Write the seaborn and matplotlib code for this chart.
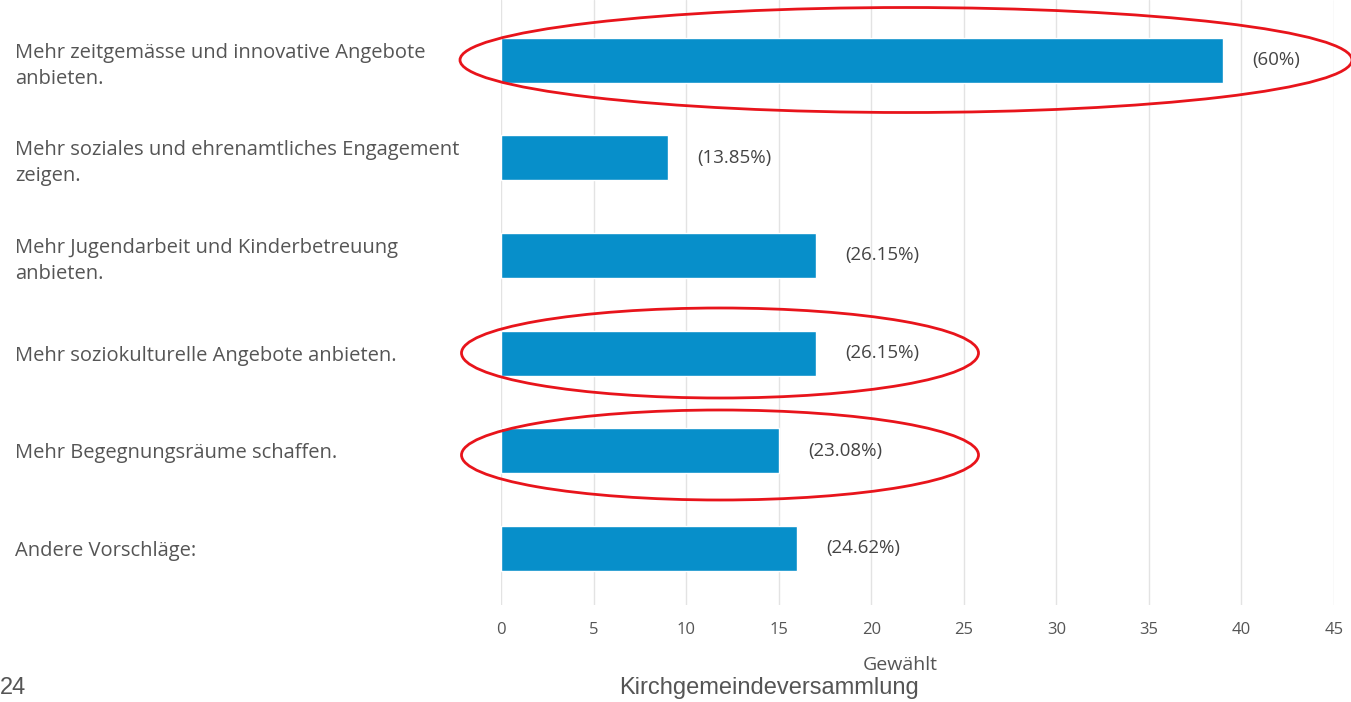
import matplotlib
matplotlib.use("Agg")
import matplotlib.pyplot as plt
from matplotlib.patches import Ellipse
import seaborn as sns
import pandas as pd

categories = [
    "Mehr zeitgemässe und innovative Angebote\nanbieten.",
    "Mehr soziales und ehrenamtliches Engagement\nzeigen.",
    "Mehr Jugendarbeit und Kinderbetreuung\nanbieten.",
    "Mehr soziokulturelle Angebote anbieten.",
    "Mehr Begegnungsräume schaffen.",
    "Andere Vorschläge:",
]
counts = [39, 9, 17, 17, 15, 16]
percent_labels = ["(60%)", "(13.85%)", "(26.15%)", "(26.15%)", "(23.08%)", "(24.62%)"]
x_ticks = [0, 5, 10, 15, 20, 25, 30, 35, 40, 45]

df = pd.DataFrame({"Kategorie": categories, "Gewählt": counts})

sns.set_theme(style="white")
plt.rcParams["font.family"] = ["Open Sans", "DejaVu Sans"]

W, H = 1351, 702
fig = plt.figure(figsize=(W / 100, H / 100), dpi=100)
ax = fig.add_axes([501 / W, 1 - 605 / H, (1334 - 501) / W, 605 / H])

sns.barplot(data=df, y="Kategorie", x="Gewählt", color="#078fca",
            width=0.46, saturation=1, ax=ax, zorder=3)

ax.set_xlim(0, 45)
ax.set_ylim(5.58, -0.615)
ax.set_xticks(x_ticks)
ax.set_xticklabels([str(t) for t in x_ticks])
ax.grid(axis="x", color="#e3e3e3", linewidth=1, zorder=0)
ax.grid(axis="y", visible=False)
for s in ax.spines.values():
    s.set_visible(False)
ax.tick_params(axis="x", length=0, pad=12, labelsize=12, labelcolor="#555555")
ax.tick_params(axis="y", length=0, labelsize=14.5, labelcolor="#555555")
ax.set_ylabel("")
ax.set_xlabel("Gewählt", fontsize=14, color="#555555", labelpad=8)
ax.xaxis.set_label_coords((900 - 501) / (1334 - 501), -0.085)

for lab in ax.get_yticklabels():
    lab.set_horizontalalignment("left")
    lab.set_linespacing(1.4)
ax.tick_params(axis="y", pad=(501 - 15) * 72 / 100)

for i, (c, p) in enumerate(zip(counts, percent_labels)):
    ax.annotate(p, xy=(c, i), xytext=(21, 0), textcoords="offset points",
                va="center", ha="left", fontsize=13.5, color="#444444")

# Red highlight ellipses (figure pixel coordinates)
def fig_ellipse(cx, cy, w, h):
    e = Ellipse((cx / W, 1 - cy / H), w / W, h / H, transform=fig.transFigure,
                fill=False, edgecolor="#e8141b", linewidth=2, zorder=10)
    fig.patches.append(e)

fig_ellipse(906, 60, 892, 105)
fig_ellipse(720, 353, 517, 90)
fig_ellipse(720, 455, 517, 90)

fig.text(0 / W, 1 - 688 / H, "24", fontsize=17, color="#555555",
         family="Liberation Sans", va="center", ha="left")
fig.text(769 / W, 1 - 688 / H, "Kirchgemeindeversammlung", fontsize=17,
         color="#555555", family="Liberation Sans", va="center", ha="center")

fig.savefig("out.png", dpi=100)
